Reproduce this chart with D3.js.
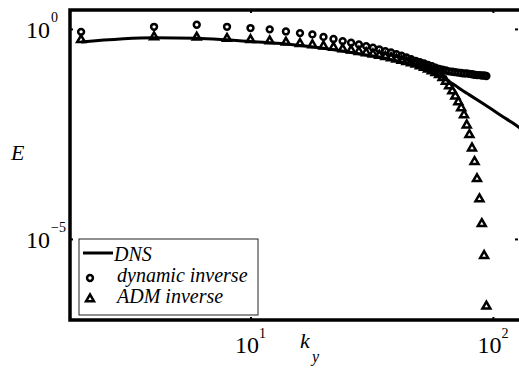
<!DOCTYPE html>
<html lang="en">
	<head>
		<meta charset="utf-8">
		<title>E vs k_y, log-log</title>
		<script type="text/javascript" src="https://cdnjs.cloudflare.com/ajax/libs/d3/7.8.5/d3.min.js"></script>
		<style type="text/css">
			body { margin:0; background:#fff; }
			text { font-family:"Liberation Serif", "Times New Roman", serif; fill:#000; }
		</style>
	</head>
	<body>
		<script type="text/javascript">
			// data
			var kDNS = [2, 4, 6, 8, 10, 14, 20, 26, 30, 36, 40, 46, 50, 56, 60, 66, 70, 76, 80, 90, 100, 110, 120, 130];
			var eDNS = [0.490, 0.617, 0.603, 0.550, 0.501, 0.437, 0.347, 0.275, 0.240, 0.200, 0.174, 0.145,
						0.126, 0.100, 0.0794, 0.0562, 0.0447, 0.0324, 0.0269, 0.0174, 0.0117, 0.00813, 0.00589, 0.00427];

			var kMarks = [2, 4, 6, 8, 10, 12, 14, 16, 18, 20, 22, 24, 26, 28, 30, 32, 34, 36, 38, 40, 42, 44, 46, 48,
						  50, 52, 54, 56, 58, 60, 62, 64, 66, 68, 70, 72, 74, 76, 78, 80, 82, 84, 86, 88, 90, 92, 94];
			var eDynamic = [0.851, 1.122, 1.259, 1.122, 1.047, 0.977, 0.871, 0.794, 0.741, 0.646, 0.575, 0.513,
							0.468, 0.427, 0.389, 0.355, 0.324, 0.295, 0.275, 0.251, 0.229, 0.209, 0.191, 0.174,
							0.162, 0.151, 0.138, 0.129, 0.120, 0.112, 0.107, 0.102, 0.0977, 0.0955, 0.0933, 0.0912,
							0.0891, 0.0871, 0.0871, 0.0851, 0.0832, 0.0813, 0.0794, 0.0794, 0.0776, 0.0776, 0.0759];
			var eADM = [0.550, 0.646, 0.631, 0.589, 0.550, 0.513, 0.479, 0.447, 0.417, 0.389, 0.363, 0.331,
						0.309, 0.288, 0.269, 0.251, 0.234, 0.219, 0.204, 0.191, 0.178, 0.166, 0.155, 0.145,
						0.132, 0.120, 0.110, 0.100, 0.0912, 0.0813, 0.0692, 0.0562, 0.0437, 0.0331, 0.0251, 0.0182,
						0.0132, 0.00891, 0.00513, 0.00302, 0.00145, 6.9e-4, 2.7e-4, 8.9e-5, 2.3e-5, 4.0e-6, 2.5e-7];

			var xTicks = [10, 100];
			var xTickSup = ["1", "2"];
			var yTicks = [1, 1e-5];
			var yTickSup = ["0", "\u22125"];
			var legendNames = ["DNS", "dynamic inverse", "ADM inverse"];

			//Width and height
			var w = 519;
			var h = 368;
			var padL = 70, padR = 521, padT = 10, padB = 320;

			var svg = d3.select("body")
						.append("svg")
						.attr("width", w)
						.attr("height", h);

			var x = d3.scaleLog().domain([1.8, 130.6]).range([padL, padR]);
			var y = d3.scaleLog().domain([1.175e-7, 2.82]).range([padB, padT]);

			svg.append("clipPath").attr("id", "plot")
			   .append("rect")
			   .attr("x", padL).attr("y", padT)
			   .attr("width", padR - padL).attr("height", padB - padT);

			var g = svg.append("g").attr("clip-path", "url(#plot)");

			// DNS line
			var line = d3.line()
						 .x(function(d, i) { return x(kDNS[i]); })
						 .y(function(d) { return y(d); })
						 .curve(d3.curveMonotoneX);
			g.append("path")
			 .datum(eDNS)
			 .attr("d", line)
			 .attr("fill", "none")
			 .attr("stroke", "#000")
			 .attr("stroke-width", 3);

			// markers (open, heavy outline)
			var circ = d3.symbol().type(d3.symbolCircle).size(27);
			var tri = d3.symbol().type(d3.symbolTriangle).size(27);

			g.selectAll("path.dyn")
			 .data(eDynamic)
			 .enter()
			 .append("path")
			 .attr("class", "dyn")
			 .attr("d", circ)
			 .attr("transform", function(d, i) { return "translate(" + x(kMarks[i]) + "," + y(d) + ")"; })
			 .attr("fill", "none")
			 .attr("stroke", "#000")
			 .attr("stroke-width", 2.5);

			g.selectAll("path.adm")
			 .data(eADM)
			 .enter()
			 .append("path")
			 .attr("class", "adm")
			 .attr("d", tri)
			 .attr("transform", function(d, i) { return "translate(" + x(kMarks[i]) + "," + y(d) + ")"; })
			 .attr("fill", "none")
			 .attr("stroke", "#000")
			 .attr("stroke-width", 2.5);

			// axes box with small inward ticks
			svg.append("g")
			   .attr("transform", "translate(0," + padB + ")")
			   .call(d3.axisBottom(x).tickValues(xTicks).tickSize(-3).tickFormat(""));
			svg.append("g")
			   .attr("transform", "translate(0," + padT + ")")
			   .call(d3.axisTop(x).tickValues(xTicks).tickSize(-3).tickFormat(""));
			svg.append("g")
			   .attr("transform", "translate(" + padL + ",0)")
			   .call(d3.axisLeft(y).tickValues(yTicks).tickSize(-3).tickFormat(""));
			svg.append("g")
			   .attr("transform", "translate(" + (padR - 3) + ",0)")
			   .call(d3.axisRight(y).tickValues(yTicks).tickSize(-3).tickFormat(""));
			svg.selectAll(".domain").remove();
			svg.selectAll(".tick line").attr("stroke", "#000").attr("stroke-width", 2);

			svg.append("path")
			   .attr("d", "M" + (padR + 2) + "," + padT + "H" + padL + "V" + padB + "H" + (padR + 2))
			   .attr("fill", "none")
			   .attr("stroke", "#000")
			   .attr("stroke-width", 3.5);

			// tick labels
			xTicks.forEach(function(t, i) {
				var tx = svg.append("text")
							.attr("x", x(t))
							.attr("y", 353)
							.attr("font-size", "24px")
							.attr("text-anchor", "middle");
				tx.append("tspan").text("10");
				tx.append("tspan").attr("dy", -15).attr("font-size", "14px").text(xTickSup[i]);
			});
			yTicks.forEach(function(t, i) {
				svg.append("text")
				   .attr("x", 50)
				   .attr("y", y(t) + 9)
				   .attr("font-size", "24px")
				   .attr("text-anchor", "end")
				   .text("10");
				svg.append("text")
				   .attr("x", 51)
				   .attr("y", y(t) - 7)
				   .attr("font-size", "14px")
				   .text(yTickSup[i]);
			});

			// axis titles
			svg.append("text")
			   .attr("x", 11).attr("y", 160)
			   .attr("font-size", "22px")
			   .attr("font-style", "italic")
			   .text("E");
			svg.append("text")
			   .attr("x", 300).attr("y", 348)
			   .attr("font-size", "22px")
			   .attr("font-style", "italic")
			   .text("k");
			svg.append("text")
			   .attr("x", 312).attr("y", 362)
			   .attr("font-size", "16px")
			   .attr("font-style", "italic")
			   .text("y");

			// legend
			var lg = svg.append("g");
			lg.append("rect")
			  .attr("x", 79).attr("y", 239)
			  .attr("width", 179).attr("height", 76)
			  .attr("fill", "#fff")
			  .attr("stroke", "#222")
			  .attr("stroke-width", 1);
			lg.append("line")
			  .attr("x1", 83).attr("x2", 113)
			  .attr("y1", 253).attr("y2", 253)
			  .attr("stroke", "#000").attr("stroke-width", 3);
			lg.append("path")
			  .attr("d", circ)
			  .attr("transform", "translate(90,278)")
			  .attr("fill", "none").attr("stroke", "#000").attr("stroke-width", 2.5);
			lg.append("path")
			  .attr("d", tri)
			  .attr("transform", "translate(90,299)")
			  .attr("fill", "none").attr("stroke", "#000").attr("stroke-width", 2.5);
			lg.selectAll("text.leg")
			  .data(legendNames)
			  .enter()
			  .append("text")
			  .attr("class", "leg")
			  .attr("x", function(d, i) { return i == 0 ? 114 : 117; })
			  .attr("y", function(d, i) { return 261 + i * 21; })
			  .attr("font-size", "20px")
			  .attr("font-style", "italic")
			  .text(function(d) { return d; });
		</script>
	</body>
</html>
